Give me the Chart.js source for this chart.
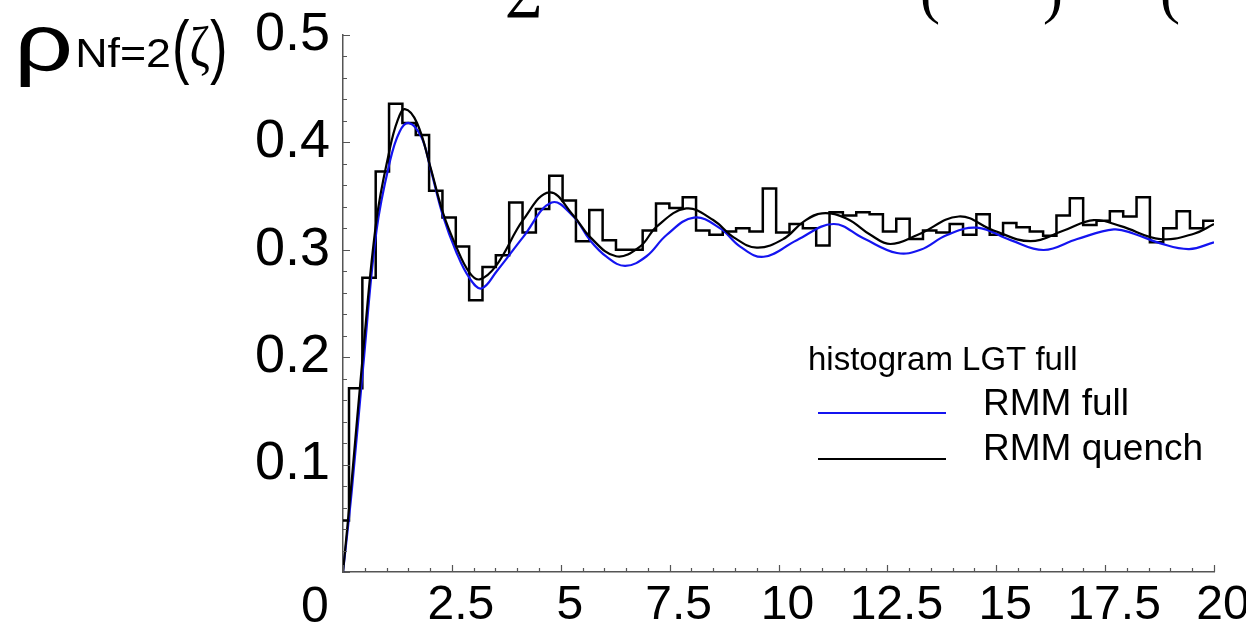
<!DOCTYPE html>
<html lang="en">
<head>
  <meta charset="UTF-8">
  <title>rho Nf=2 spectral density</title>
  <style>
    html, body {
      margin: 0;
      padding: 0;
      background: #fff;
    }
    #wrap {
      width: 1246px;
      height: 630px;
    }
  </style>
</head>
<body>
  <div id="wrap"><canvas id="rhoChart" width="1246" height="630"></canvas></div>

  <script src="https://cdn.jsdelivr.net/npm/chart.js"></script>
  <script>
    // Lattice histogram: bin heights, first bin is cut at zeta = 0
    const binStart = 0.138;
    const binWidth = 0.3065;
    const histHeights = [
      0.048, 0.171, 0.274, 0.373, 0.436, 0.418, 0.407, 0.355, 0.330, 0.303,
      0.253, 0.284, 0.295, 0.344, 0.316, 0.338, 0.369, 0.346, 0.308, 0.337,
      0.309, 0.300, 0.300, 0.318, 0.343, 0.339, 0.349, 0.318, 0.314, 0.317,
      0.320, 0.317, 0.357, 0.316, 0.324, 0.320, 0.304, 0.335, 0.332, 0.335,
      0.333, 0.317, 0.329, 0.310, 0.318, 0.316, 0.324, 0.314, 0.333, 0.314,
      0.325, 0.321, 0.317, 0.313, 0.332, 0.348, 0.323, 0.327, 0.336, 0.331,
      0.349, 0.307, 0.320, 0.336, 0.320, 0.327
    ];

    // RMM full (blue)
    const fullX = [0, 0.2, 0.46, 0.77, 1.07, 1.3, 1.52, 1.8, 2.0, 2.3,
      2.6, 2.9, 3.18, 3.53, 4.14, 4.79, 5.29, 5.67, 6.05, 6.48,
      6.97, 7.43, 8.06, 8.66, 9.12, 9.66, 10.42, 11.26, 11.95, 12.72,
      13.26, 13.87, 14.56, 15.33, 16.09, 16.86, 17.7, 18.16, 18.77, 19.43, 20];
    const fullY = [0, 0.075, 0.19, 0.318, 0.381, 0.41, 0.418, 0.405, 0.377, 0.331,
      0.298, 0.274, 0.264, 0.28, 0.312, 0.344, 0.331, 0.309, 0.2936, 0.285,
      0.294, 0.3138, 0.33, 0.32, 0.303, 0.2935, 0.309, 0.324, 0.3107, 0.297,
      0.3, 0.3138, 0.3206, 0.309, 0.2998, 0.31, 0.319, 0.315, 0.306, 0.3007, 0.307];

    // RMM quench (black)
    const quenchX = [0, 0.2, 0.46, 0.77, 1.07, 1.25, 1.42, 1.7, 2.0, 2.3,
      2.6, 2.9, 3.14, 3.53, 4.14, 4.74, 5.29, 5.67, 6.27, 6.82,
      7.2, 7.88, 8.5, 8.97, 9.5, 10.11, 10.57, 11.0, 11.57, 12.11,
      12.57, 13.2, 14.14, 14.94, 15.79, 16.55, 17.24, 17.86, 18.77, 19.54, 20];
    const quenchY = [0, 0.085, 0.204, 0.328, 0.393, 0.42, 0.431, 0.418, 0.378, 0.334,
      0.303, 0.279, 0.2725, 0.286, 0.328, 0.3535, 0.332, 0.312, 0.294, 0.303,
      0.3215, 0.3385, 0.3277, 0.3116, 0.302, 0.31, 0.326, 0.334, 0.329, 0.314,
      0.3054, 0.314, 0.331, 0.318, 0.308, 0.318, 0.3277, 0.322, 0.31, 0.315, 0.324];

    const xTicks = [0, 2.5, 5, 7.5, 10, 12.5, 15, 17.5, 20];
    const yTicks = [0, 0.1, 0.2, 0.3, 0.4, 0.5];

    const sans = "'Liberation Sans', Arial, sans-serif";
    const serif = "'Liberation Serif', 'Times New Roman', serif";

    // step points: left edge of each bin, plus the right end
    const histData = histHeights.map((h, i) => ({ x: i === 0 ? 0 : binStart + (i - 1) * binWidth, y: h }));
    histData.push({ x: 20, y: histHeights[histHeights.length - 1] });

    // text squeezed or stretched sideways, returns its drawn width
    function wideText(c, txt, x, y, font, sx) {
      c.save();
      c.font = font;
      c.translate(x, y);
      c.scale(sx, 1);
      c.fillText(txt, 0, 0);
      const w = c.measureText(txt).width * sx;
      c.restore();
      return w;
    }

    // minor ticks pointing inward, the lone "0", axis title, legend, and
    // the cut-off formula from the top of the original figure
    const decor = {
      id: 'decor',
      afterDraw(chart) {
        const c = chart.ctx;
        const xs = chart.scales.x, ys = chart.scales.y;
        const area = chart.chartArea;
        c.save();
        c.strokeStyle = '#555';
        c.lineWidth = 1.2;
        c.beginPath();
        for (let i = 0; i <= 40; i++) {
          const px = Math.round(xs.getPixelForValue(i * 0.5)) + 0.5;
          const len = i % 5 === 0 ? 7 : 4;
          c.moveTo(px, area.bottom);
          c.lineTo(px, area.bottom - len);
        }
        for (let i = 0; i <= 25; i++) {
          const py = Math.round(ys.getPixelForValue(i * 0.02)) + 0.5;
          const len = i % 5 === 0 ? 7 : 4;
          c.moveTo(area.left, py);
          c.lineTo(area.left + len, py);
        }
        c.stroke();

        c.fillStyle = '#000';
        c.textBaseline = 'alphabetic';
        c.textAlign = 'center';
        c.font = '50px ' + sans;
        c.fillText('0', xs.getPixelForValue(0) - 28, 622);

        // axis title
        c.textAlign = 'left';
        let x = 14;
        x += wideText(c, '\u03c1', x, 70, '80px ' + sans, 1.3) + 2;
        x += wideText(c, 'Nf=2', x, 67, '40px ' + sans, 1.12) + 1;
        x += wideText(c, '(', x, 70, '70px ' + sans, 0.75);
        x += wideText(c, '\u03b6', x, 66, '58px ' + serif, 0.85);
        wideText(c, ')', x, 70, '70px ' + sans, 0.75);

        // fragments of the formula above the plot
        c.font = '64px ' + serif;
        c.fillText('\u03a3', 505, 18);
        c.font = '60px ' + serif;
        c.fillText('(', 920, 12);
        c.fillText(')', 1043, 12);
        c.fillText('(', 1160, 12);

        // legend
        const ds = chart.data.datasets;
        c.font = '33px ' + sans;
        c.fillText(ds[0].label, 808, 370);
        c.font = '37px ' + sans;
        c.lineWidth = 2;
        c.strokeStyle = ds[1].borderColor;
        c.beginPath(); c.moveTo(818, 413); c.lineTo(946, 413); c.stroke();
        c.fillText(ds[1].label, 983, 415);
        c.strokeStyle = ds[2].borderColor;
        c.beginPath(); c.moveTo(818, 459); c.lineTo(946, 459); c.stroke();
        c.fillText(ds[2].label, 983, 460);
        c.restore();
      }
    };

    const ctx = document.getElementById('rhoChart').getContext('2d');
    new Chart(ctx, {
      type: 'line',
      data: {
        datasets: [
          {
            label: 'histogram LGT full',
            data: histData,
            stepped: 'before',
            borderColor: '#000',
            borderWidth: 2.5,
            pointRadius: 0,
            fill: false,
            order: 3
          },
          {
            label: 'RMM full',
            data: fullX.map((x, i) => ({ x: x, y: fullY[i] })),
            borderColor: '#1414f0',
            borderWidth: 2.2,
            pointRadius: 0,
            tension: 0.4,
            fill: false,
            order: 2
          },
          {
            label: 'RMM quench',
            data: quenchX.map((x, i) => ({ x: x, y: quenchY[i] })),
            borderColor: '#000',
            borderWidth: 2.2,
            pointRadius: 0,
            tension: 0.4,
            fill: false,
            order: 1
          }
        ]
      },
      options: {
        responsive: false,
        animation: false,
        layout: { padding: { top: 35, right: 32, left: 0, bottom: 0 } },
        plugins: { legend: { display: false }, tooltip: { enabled: false } },
        scales: {
          x: {
            type: 'linear',
            min: 0,
            max: 20,
            afterBuildTicks: s => { s.ticks = xTicks.map(v => ({ value: v })); },
            afterFit: s => { s.height = 58; s.paddingLeft = 0; s.paddingRight = 0; },
            grid: { display: false, drawTicks: false },
            border: { display: true, color: '#555', width: 1.5 },
            ticks: {
              callback: v => (v === 0 ? '' : String(v)),
              font: { family: sans, size: 48 },
              color: '#000',
              padding: 5,
              labelOffset: 9,
              maxRotation: 0,
              autoSkip: false
            }
          },
          y: {
            min: 0,
            max: 0.5,
            afterBuildTicks: s => { s.ticks = yTicks.map(v => ({ value: v })); },
            afterFit: s => { s.width = 343; s.paddingTop = 0; s.paddingBottom = 0; },
            grid: { display: false, drawTicks: false },
            border: { display: true, color: '#555', width: 1.5 },
            ticks: {
              callback: v => (v === 0 ? '' : v.toFixed(1)),
              font: { family: sans, size: 54 },
              color: '#000',
              padding: 13,
              autoSkip: false
            }
          }
        }
      },
      plugins: [decor]
    });
  </script>
</body>
</html>
